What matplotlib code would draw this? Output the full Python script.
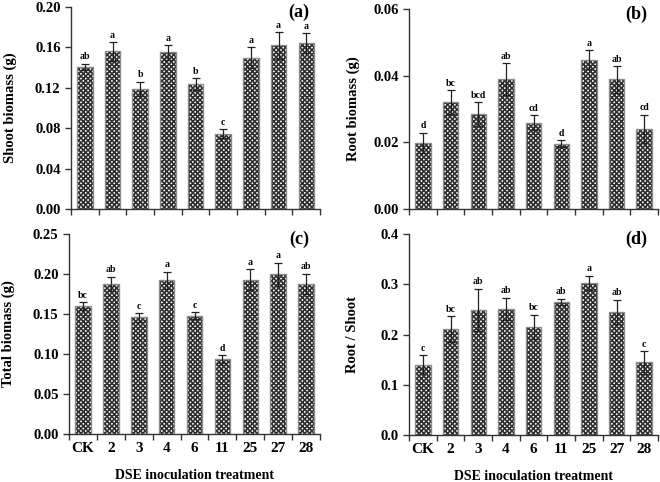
import numpy as np
import matplotlib.pyplot as plt

plt.rcParams['font.family'] = ['Liberation Serif', 'DejaVu Serif']
plt.rcParams['font.weight'] = 'bold'
plt.rcParams['hatch.linewidth'] = 1.2

treatments = ['CK', '2', '3', '4', '6', '11', '25', '27', '28']

shoot = [0.141, 0.156, 0.119, 0.155, 0.1235, 0.0745, 0.150, 0.162, 0.164]
shoot_err = [0.003, 0.009, 0.007, 0.007, 0.006, 0.0045, 0.010, 0.013, 0.010]
shoot_sig = ['ab', 'a', 'b', 'a', 'b', 'c', 'a', 'a', 'a']

root = [0.0199, 0.0321, 0.0285, 0.0389, 0.0259, 0.0196, 0.0448, 0.0389, 0.0241]
root_err = [0.003, 0.0036, 0.0036, 0.0048, 0.0022, 0.0011, 0.0028, 0.004, 0.0042]
root_sig = ['d', 'bc', 'bcd', 'ab', 'cd', 'd', 'a', 'ab', 'cd']

total = [0.160, 0.1875, 0.1458, 0.192, 0.148, 0.0933, 0.193, 0.1996, 0.1875]
total_err = [0.005, 0.009, 0.0055, 0.011, 0.0045, 0.005, 0.013, 0.0146, 0.013]
total_sig = ['bc', 'ab', 'c', 'a', 'c', 'd', 'a', 'a', 'ab']

ratio = [0.140, 0.211, 0.249, 0.251, 0.2146, 0.265, 0.303, 0.245, 0.1444]
ratio_err = [0.019, 0.026, 0.042, 0.022, 0.0245, 0.0066, 0.014, 0.0245, 0.022]
ratio_sig = ['c', 'bc', 'ab', 'ab', 'bc', 'ab', 'a', 'ab', 'c']

panels = [
    (shoot, shoot_err, shoot_sig, 'Shoot biomass (g)', '(a)', 0.20, [0, 0.04, 0.08, 0.12, 0.16, 0.20], '%.2f',
     [0.1076, 0.566, 0.3774, 0.4195], -0.215),
    (root, root_err, root_sig, 'Root biomass (g)', '(b)', 0.06, [0, 0.02, 0.04, 0.06], '%.2f',
     [0.620, 0.566, 0.377, 0.4155], -0.197),
    (total, total_err, total_sig, 'Total biomass (g)', '(c)', 0.25, [0, 0.05, 0.10, 0.15, 0.20, 0.25], '%.2f',
     [0.1045, 0.0996, 0.3805, 0.4149], -0.213),
    (ratio, ratio_err, ratio_sig, 'Root / Shoot', '(d)', 0.4, [0, 0.1, 0.2, 0.3, 0.4], '%.1f',
     [0.620, 0.0975, 0.377, 0.417], -0.200),
]

fig = plt.figure(figsize=(6.6, 4.82), dpi=100)
x = np.arange(len(treatments))
axc = '#333333'

for i, (vals, errs, sig, ylab, tag, ymax, yt, fmt, pos, ylx) in enumerate(panels):
    ax = fig.add_axes(pos)
    ax.bar(x, vals, width=0.56, color='white', edgecolor='#303030', hatch='xxxxxxx', linewidth=0)
    ax.bar(x, vals, width=0.56, color='none', edgecolor='#8c8c8c', linewidth=1.0)
    ax.errorbar(x, vals, yerr=errs, fmt='none', ecolor='#222222', elinewidth=0.9, capsize=3, capthick=0.9)
    for xi, v, e, s in zip(x, vals, errs, sig):
        ax.text(xi, v + e + ymax * 0.012, s, ha='center', va='bottom', fontsize=7, fontweight='bold')
    ax.set_xlim(-0.5, len(treatments) - 0.5)
    ax.set_ylim(0, ymax)
    ax.set_yticks(yt)
    ax.set_yticklabels([fmt % t for t in yt], fontsize=10.5, fontweight='bold')
    ax.set_xticks(x)
    ax.set_xticks(np.arange(len(treatments) + 1) - 0.5, minor=True)
    ax.tick_params(axis='x', which='major', length=0, pad=6)
    ax.tick_params(axis='x', which='minor', length=4, width=1, color=axc)
    ax.tick_params(axis='y', length=4, width=1, color=axc)
    if i >= 2:
        ax.set_xticklabels(treatments, fontsize=11, fontweight='bold')
        ax.set_xlabel('DSE inoculation treatment', fontsize=10, fontweight='bold', labelpad=10)
    else:
        ax.set_xticklabels([])
    ax.set_ylabel(ylab, fontsize=10.5, fontweight='bold')
    ax.yaxis.set_label_coords(ylx, 0.5)
    for sp in ['top', 'right']:
        ax.spines[sp].set_visible(False)
    for sp in ['left', 'bottom']:
        ax.spines[sp].set_color(axc)
        ax.spines[sp].set_linewidth(1.0)
    ax.text(0.955, 0.975, tag, transform=ax.transAxes, ha='right', va='center', fontsize=13, fontweight='bold')

plt.savefig('out.png', dpi=100)
